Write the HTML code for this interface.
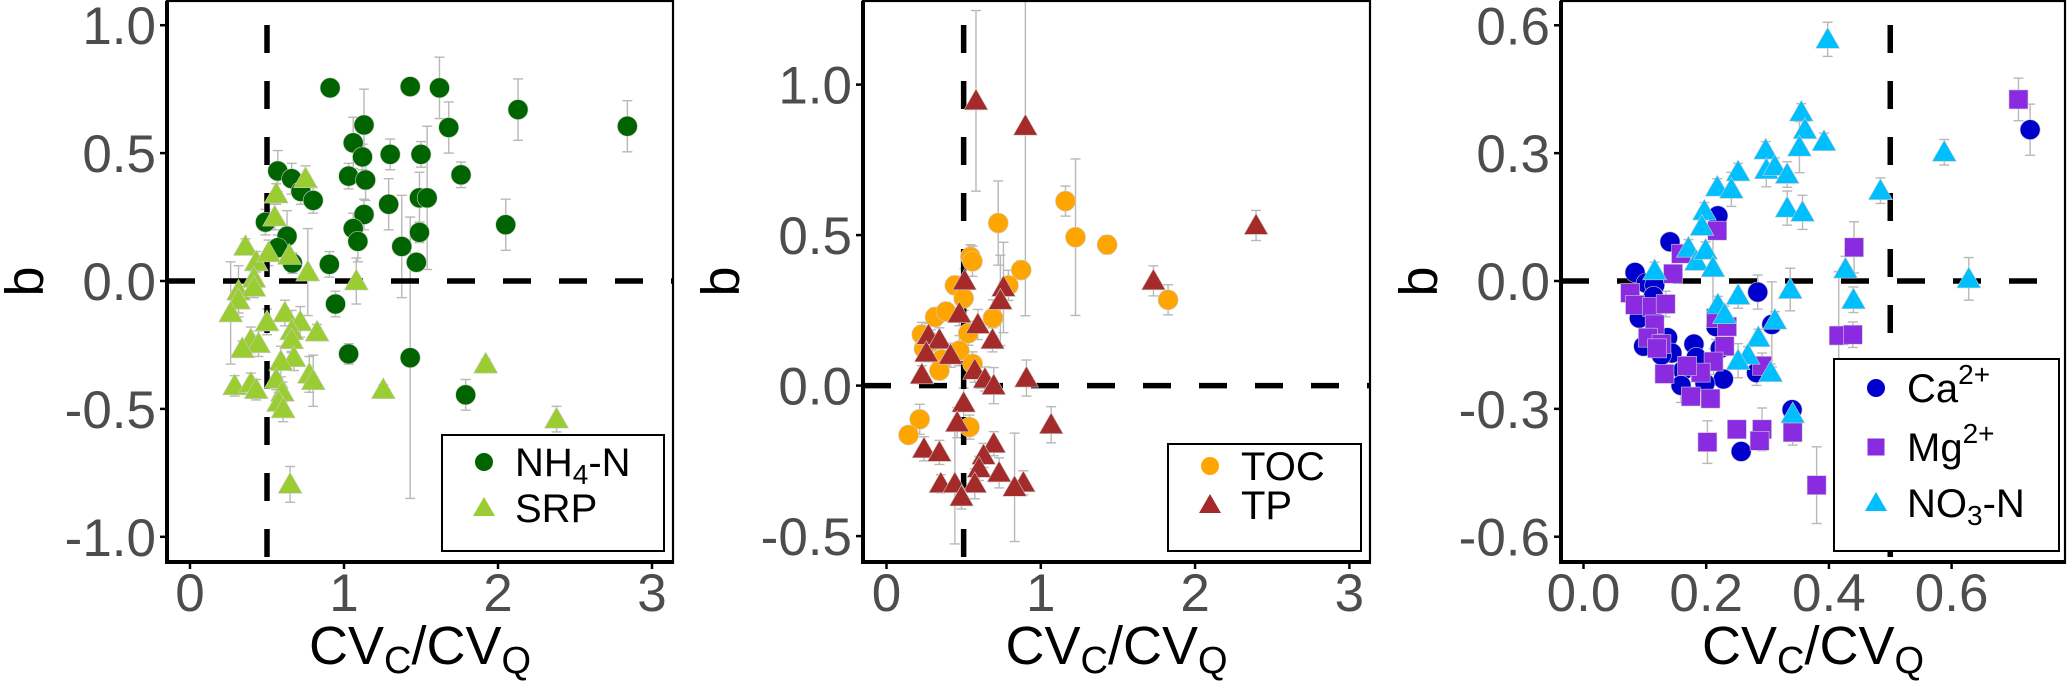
<!DOCTYPE html>
<html><head><meta charset="utf-8"><style>
html,body{margin:0;padding:0;background:#fff;}
svg{display:block;font-family:"Liberation Sans",sans-serif;}
</style></head><body>
<svg id="chart" width="2067" height="681" viewBox="0 0 2067 681" xmlns="http://www.w3.org/2000/svg"></svg>
<script>
// ---- Panel 1 data ----
const nh4X=[0.91,1.43,1.62,2.13,2.84,1.68,1.13,1.06,1.12,1.30,1.50,0.57,0.66,0.72,0.80,1.03,1.14,1.76,1.29,1.49,1.54,1.13,0.49,1.06,2.05,1.49,0.63,0.57,1.09,1.375,0.665,0.905,1.47,0.945,1.03,1.43,1.79];
const nh4Y=[0.755,0.76,0.755,0.67,0.605,0.6,0.61,0.54,0.485,0.495,0.495,0.43,0.40,0.35,0.315,0.41,0.395,0.415,0.30,0.325,0.325,0.26,0.23,0.205,0.22,0.19,0.175,0.13,0.155,0.135,0.07,0.065,0.073,-0.09,-0.285,-0.30,-0.445];
const nh4E=[0.03,0.0,0.12,0.12,0.1,0.1,0.14,0.1,0.05,0.06,0.05,0.08,0.06,0.05,0.05,0.05,0.08,0.05,0.1,0.1,0.28,0.06,0.05,0.06,0.1,0.04,0.1,0.05,0.08,0.2,0.04,0.05,0.03,0.05,0.04,0.55,0.06];
const srpX=[0.75,0.56,0.55,0.36,0.43,0.51,0.645,0.765,1.08,0.415,0.315,0.415,0.315,0.264,0.50,0.616,0.716,0.825,0.66,0.395,0.445,0.34,0.66,0.675,0.59,0.775,0.80,0.56,0.60,0.575,0.605,0.29,0.395,0.43,1.255,1.92,2.38,0.65];
const srpY=[0.40,0.34,0.25,0.135,0.075,0.11,0.10,0.035,0.0,0.01,-0.04,-0.025,-0.075,-0.125,-0.16,-0.125,-0.16,-0.20,-0.195,-0.23,-0.245,-0.265,-0.23,-0.30,-0.315,-0.365,-0.39,-0.385,-0.435,-0.475,-0.50,-0.41,-0.40,-0.425,-0.425,-0.325,-0.54,-0.795];
const srpE=[0.05,0.04,0.05,0.03,0.04,0.05,0.05,0.17,0.09,0.03,0.1,0.04,0.05,0.2,0.05,0.05,0.06,0.03,0.08,0.05,0.05,0.03,0.05,0.05,0.06,0.07,0.1,0.04,0.04,0.04,0.05,0.04,0.04,0.04,0.02,0.02,0.05,0.07];
// ---- Panel 2 data ----
const tocX=[1.16,0.724,1.225,1.43,0.544,0.557,0.873,0.79,0.443,0.50,1.825,0.315,0.386,0.69,0.53,0.229,0.286,0.243,0.472,0.358,0.558,0.343,0.215,0.143,0.538];
const tocY=[0.613,0.54,0.493,0.468,0.428,0.413,0.384,0.333,0.333,0.29,0.285,0.228,0.246,0.225,0.174,0.17,0.145,0.123,0.116,0.087,0.072,0.05,-0.112,-0.164,-0.138];
const tocE=[0.05,0.14,0.26,0.03,0.04,0.05,0.03,0.05,0.03,0.04,0.05,0.03,0.03,0.06,0.04,0.04,0.04,0.04,0.05,0.04,0.04,0.03,0.05,0.02,0.04];
const tpX=[0.58,0.90,2.395,1.73,0.506,0.758,0.738,0.592,0.687,0.472,0.272,0.343,0.258,0.415,0.229,0.572,0.638,0.695,0.907,0.50,0.458,1.067,0.243,0.343,0.695,0.629,0.60,0.73,0.572,0.352,0.443,0.887,0.83,0.486];
const tpY=[0.946,0.862,0.532,0.348,0.348,0.326,0.283,0.203,0.152,0.239,0.167,0.152,0.109,0.101,0.036,0.051,0.022,0.0,0.025,-0.058,-0.123,-0.13,-0.21,-0.222,-0.193,-0.232,-0.275,-0.29,-0.326,-0.326,-0.326,-0.323,-0.338,-0.37];
const tpE=[0.3,0.63,0.05,0.05,0.04,0.15,0.15,0.05,0.04,0.04,0.04,0.04,0.03,0.04,0.03,0.04,0.04,0.06,0.06,0.05,0.05,0.06,0.04,0.04,0.04,0.04,0.04,0.05,0.05,0.03,0.2,0.04,0.18,0.04];
// ---- Panel 3 data ----
const caX=[0.728,0.219,0.141,0.084,0.102,0.116,0.114,0.091,0.098,0.137,0.144,0.127,0.18,0.184,0.162,0.159,0.216,0.223,0.228,0.284,0.307,0.282,0.257,0.34,0.198];
const caY=[0.355,0.153,0.092,0.02,-0.005,-0.01,-0.036,-0.087,-0.153,-0.133,-0.169,-0.174,-0.148,-0.179,-0.21,-0.245,-0.107,-0.158,-0.23,-0.026,-0.102,-0.215,-0.40,-0.302,-0.24];
const caE=[0.06,0.02,0.02,0.02,0.02,0.02,0.02,0.02,0.02,0.02,0.02,0.02,0.02,0.03,0.03,0.04,0.03,0.02,0.02,0.04,0.1,0.03,0.02,0.02,0.03];
const mgX=[0.709,0.218,0.159,0.146,0.076,0.084,0.112,0.134,0.116,0.105,0.127,0.12,0.132,0.216,0.234,0.23,0.212,0.191,0.175,0.207,0.291,0.202,0.25,0.291,0.287,0.341,0.38,0.416,0.439,0.441,0.169];
const mgY=[0.426,0.118,0.064,0.017,-0.028,-0.056,-0.061,-0.054,-0.102,-0.133,-0.148,-0.158,-0.218,-0.087,-0.107,-0.153,-0.189,-0.215,-0.271,-0.276,-0.199,-0.378,-0.348,-0.348,-0.375,-0.355,-0.479,-0.128,-0.126,0.079,-0.199];
const mgE=[0.05,0.02,0.02,0.02,0.02,0.02,0.02,0.03,0.02,0.02,0.02,0.02,0.02,0.02,0.02,0.02,0.03,0.03,0.02,0.02,0.03,0.05,0.02,0.05,0.02,0.03,0.09,0.15,0.03,0.06,0.02];
const no3X=[0.398,0.355,0.361,0.392,0.352,0.297,0.298,0.312,0.332,0.252,0.218,0.241,0.332,0.357,0.197,0.193,0.484,0.588,0.171,0.184,0.199,0.211,0.116,0.427,0.628,0.252,0.337,0.44,0.219,0.23,0.312,0.285,0.268,0.252,0.305,0.341];
const no3Y=[0.567,0.396,0.355,0.327,0.314,0.307,0.261,0.269,0.25,0.256,0.22,0.215,0.171,0.161,0.164,0.128,0.212,0.302,0.077,0.046,0.072,0.031,0.024,0.028,0.005,-0.034,-0.02,-0.044,-0.056,-0.079,-0.092,-0.133,-0.174,-0.187,-0.215,-0.312];
const no3E=[0.04,0.02,0.02,0.02,0.06,0.02,0.04,0.02,0.03,0.02,0.02,0.04,0.04,0.04,0.02,0.02,0.03,0.03,0.02,0.02,0.02,0.1,0.02,0.03,0.05,0.03,0.05,0.03,0.02,0.02,0.02,0.02,0.02,0.04,0.02,0.02];

const xt1=["0","1","2","3"], xv1=[0,1,2,3];
const yt1=["1.0","0.5","0.0","-0.5","-1.0"], yv1=[1,0.5,0,-0.5,-1];
const yt2=["1.0","0.5","0.0","-0.5"], yv2=[1,0.5,0,-0.5];
const xt3=["0.0","0.2","0.4","0.6"], xv3=[0,0.2,0.4,0.6];
const yt3=["0.6","0.3","0.0","-0.3","-0.6"], yv3=[0.6,0.3,0,-0.3,-0.6];

const NS="http://www.w3.org/2000/svg";
const svg=document.getElementById('chart');
function el(tag,attrs,parent){const e=document.createElementNS(NS,tag);for(const k in attrs)e.setAttribute(k,attrs[k]);(parent||svg).appendChild(e);return e;}

const panels=[
 {L:167,R:673,x0:190,kx:154,y0:281,ky:255.8,xv:xv1,xt:xt1,yv:yv1,yt:yt1,vline:0.5,
  series:[[nh4X,nh4Y,nh4E,'circle','#006400','nh4'],[srpX,srpY,srpE,'tri','#9acd32','srp']]},
 {L:863,R:1370,x0:886.5,kx:154.3,y0:385.6,ky:301,xv:xv1,xt:xt1,yv:yv2,yt:yt2,vline:0.5,
  series:[[tocX,tocY,tocE,'circle','#ffa500','toc'],[tpX,tpY,tpE,'tri','#a52a2a','tp']]},
 {L:1561,R:2065,x0:1583.5,kx:613.5,y0:281,ky:426.2,xv:xv3,xt:xt3,yv:yv3,yt:yt3,vline:0.5,
  series:[[caX,caY,caE,'circle','#0000cd','ca'],[mgX,mgY,mgE,'square','#8a2be2','mg'],[no3X,no3Y,no3E,'tri','#00bfff','no3']]}
];
const T=1,B=562;
function marker(g,shape,cx,cy,col){
  let m;
  if(shape==='circle') m=el('circle',{cx:cx,cy:cy,r:10,fill:col,stroke:'#cccccc','stroke-width':0.6},g);
  else if(shape==='square') m=el('rect',{x:cx-9.5,y:cy-9.5,width:19,height:19,fill:col,stroke:'#cccccc','stroke-width':0.6},g);
  else m=el('polygon',{points:`${cx},${cy-12} ${cx-12},${cy+9} ${cx+12},${cy+9}`,fill:col,stroke:'#cccccc','stroke-width':0.6},g);
  return m;
}
panels.forEach((p,pi)=>{
  const X=v=>p.x0+p.kx*v, Y=v=>p.y0-p.ky*v;
  const g=el('g',{});
  
  
  const clip=el('clipPath',{id:'c'+pi},g); el('rect',{x:p.L,y:T,width:p.R-p.L,height:B-T},clip);
  const data=el('g',{'clip-path':`url(#c${pi})`},g);
  p.series.forEach(s=>{
    const eg=el('g',{stroke:'#b8b8b8','stroke-width':1.4,fill:'none'},data);
    
    
    s[0].forEach((xv,i)=>{const e=s[2][i]; if(!e) return; const cx=X(xv);
      el('line',{x1:cx,x2:cx,y1:Y(s[1][i]+e),y2:Y(s[1][i]-e)},eg);
      el('line',{x1:cx-5,x2:cx+5,y1:Y(s[1][i]+e),y2:Y(s[1][i]+e)},eg);
      el('line',{x1:cx-5,x2:cx+5,y1:Y(s[1][i]-e),y2:Y(s[1][i]-e)},eg);});
  });
  const hl=el('line',{x1:p.L,x2:p.R,y1:Y(0),y2:Y(0),stroke:'#000','stroke-width':5.5,'stroke-dasharray':'28 28'},data);
  
  
  const vl=el('line',{x1:X(p.vline),x2:X(p.vline),y1:25,y2:B,stroke:'#000','stroke-width':5.5,'stroke-dasharray':'28 28'},data);
  
  
  p.series.forEach(s=>{
    const sg=el('g',{},data);
    
    
    s[0].forEach((xv,i)=>{const m=marker(sg,s[3],X(xv),Y(s[1][i]),s[4]);
      
      });
  });
  el('rect',{x:p.L,y:T,width:p.R-p.L,height:B-T,fill:'none',stroke:'#000','stroke-width':2.2},g);
  el('line',{x1:p.L,x2:p.L,y1:T,y2:B+2,stroke:'#000','stroke-width':4},g);
  el('line',{x1:p.L-2,x2:p.R+1,y1:B,y2:B,stroke:'#000','stroke-width':4},g);
  p.xv.forEach((v,i)=>{el('line',{x1:X(v),x2:X(v),y1:B,y2:B+7,stroke:'#000','stroke-width':2.5},g);
    const t=el('text',{x:X(v),y:611,'text-anchor':'middle','font-size':53,fill:'#4d4d4d'},g);t.textContent=p.xt[i];
    
    });
  p.yv.forEach((v,i)=>{el('line',{x1:p.L-7,x2:p.L,y1:Y(v),y2:Y(v),stroke:'#000','stroke-width':2.5},g);
    const t=el('text',{x:p.L-11,y:Y(v)+19,'text-anchor':'end','font-size':53,fill:'#4d4d4d'},g);t.textContent=p.yt[i];
    
    });
  const xtl=el('text',{x:(p.L+p.R)/2,y:664,'text-anchor':'middle','font-size':54,fill:'#000'},g);
  xtl.innerHTML='CV<tspan font-size="38" dy="9">C</tspan><tspan dy="-9">/CV</tspan><tspan font-size="38" dy="9">Q</tspan>';
  
  
  const ytl=el('text',{x:0,y:0,'text-anchor':'middle','font-size':54,fill:'#000',transform:`translate(${p.L-124},${(T+B)/2}) rotate(-90)`},g);
  ytl.textContent='b';
  
  
});

// legends
const legs=[
  {x:442,y:435,w:222,h:116,items:[['circle','#006400','NH<tspan font-size="28" dy="8">4</tspan><tspan dy="-8">-N</tspan>',462],['tri','#9acd32','SRP',508]]},
  {x:1168,y:444,w:193,h:107,items:[['circle','#ffa500','TOC',466],['tri','#a52a2a','TP',505]]},
  {x:1834,y:359,w:225,h:192,items:[['circle','#0000cd','Ca<tspan font-size="28" dy="-18">2+</tspan>',388],['square','#8a2be2','Mg<tspan font-size="28" dy="-18">2+</tspan>',447],['tri','#00bfff','NO<tspan font-size="28" dy="8">3</tspan><tspan dy="-8">-N</tspan>',503]]}
];
legs.forEach((L,li)=>{
  const g=el('g',{},svg);
  
  
  el('rect',{x:L.x,y:L.y,width:L.w,height:L.h,fill:'#fff',stroke:'#000','stroke-width':2},g);
  L.items.forEach(it=>{
    const cx=L.x+42, cy=it[3];
    if(it[0]==='circle') el('circle',{cx:cx,cy:cy,r:9,fill:it[1]},g);
    else if(it[0]==='square') el('rect',{x:cx-8.5,y:cy-8.5,width:17,height:17,fill:it[1]},g);
    else el('polygon',{points:`${cx},${cy-11} ${cx-11},${cy+8} ${cx+11},${cy+8}`,fill:it[1]},g);
    const t=el('text',{x:L.x+73,y:cy+14,'font-size':40,fill:'#000'},g);
    t.innerHTML=it[2];
    
    
  });
});
</script>
</body></html>
